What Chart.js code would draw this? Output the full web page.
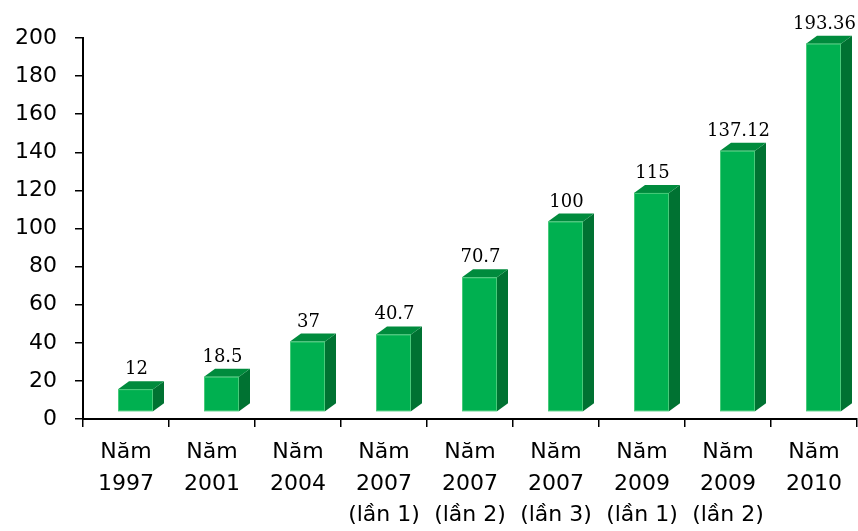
<!DOCTYPE html>
<html>
<head>
<meta charset="utf-8">
<script src="https://cdn.jsdelivr.net/npm/chart.js@4/dist/chart.umd.min.js"></script>
<style>
  html, body { margin: 0; padding: 0; background: #fff; }
  #wrap { width: 858px; height: 531px; }
</style>
</head>
<body>
<div id="wrap"><canvas id="c" width="858" height="531"></canvas></div>
<script>
const categories = [
  ['Năm', '1997'],
  ['Năm', '2001'],
  ['Năm', '2004'],
  ['Năm', '2007', '(lần 1)'],
  ['Năm', '2007', '(lần 2)'],
  ['Năm', '2007', '(lần 3)'],
  ['Năm', '2009', '(lần 1)'],
  ['Năm', '2009', '(lần 2)'],
  ['Năm', '2010']
];
const values = [12, 18.5, 37, 40.7, 70.7, 100, 115, 137.12, 193.36];
const valueLabels = ['12', '18.5', '37', '40.7', '70.7', '100', '115', '137.12', '193.36'];
const yTicks = [0, 20, 40, 60, 80, 100, 120, 140, 160, 180, 200];

// 3D box look: front face shifted right/up inside the category slot,
// with a dark side face and a mid-tone top face.
const FRONT = '#00b050';
const SIDE = '#007232';
const TOP = '#008b3d';
const SHIFT_X = 9.5, SHIFT_Y = 7;
const DEPTH_X = 11, DEPTH_Y = 8;

const boxBars = {
  id: 'boxBars',
  afterDatasetsDraw(chart) {
    const ctx = chart.ctx;
    const meta = chart.getDatasetMeta(0);
    ctx.save();
    meta.data.forEach((bar, i) => {
      const w = bar.width;
      const x0 = bar.x - w / 2 + SHIFT_X;
      const x1 = bar.x + w / 2 + SHIFT_X;
      const yt = bar.y - SHIFT_Y;
      const yb = bar.base - SHIFT_Y;
      // side face
      ctx.fillStyle = SIDE;
      ctx.beginPath();
      ctx.moveTo(x1, yt);
      ctx.lineTo(x1 + DEPTH_X, yt - DEPTH_Y);
      ctx.lineTo(x1 + DEPTH_X, yb - DEPTH_Y);
      ctx.lineTo(x1, yb);
      ctx.closePath();
      ctx.fill();
      // top face
      ctx.fillStyle = TOP;
      ctx.beginPath();
      ctx.moveTo(x0, yt);
      ctx.lineTo(x0 + DEPTH_X, yt - DEPTH_Y);
      ctx.lineTo(x1 + DEPTH_X, yt - DEPTH_Y);
      ctx.lineTo(x1, yt);
      ctx.closePath();
      ctx.fill();
      // front face
      ctx.fillStyle = FRONT;
      ctx.fillRect(x0, yt, x1 - x0, yb - yt);
      ctx.strokeStyle = 'rgba(120,220,150,0.6)';
      ctx.lineWidth = 1;
      ctx.strokeRect(x0 + 0.5, yt + 0.5, x1 - x0 - 1, yb - yt - 1);
      // value label
      ctx.fillStyle = '#000';
      ctx.font = '18px "DejaVu Serif"';
      ctx.textAlign = 'center';
      ctx.textBaseline = 'alphabetic';
      ctx.fillText(valueLabels[i], (x0 + x1) / 2 + 1, yt - DEPTH_Y - 7);
    });
    ctx.restore();
  }
};

new Chart(document.getElementById('c'), {
  type: 'bar',
  data: {
    labels: categories,
    datasets: [{
      data: values,
      backgroundColor: 'rgba(0,0,0,0)',
      borderWidth: 0,
      barThickness: 35
    }]
  },
  options: {
    responsive: false,
    animation: false,
    events: [],
    layout: { padding: { top: 38, right: 1, left: 0, bottom: 0 } },
    plugins: { legend: { display: false }, tooltip: { enabled: false } },
    scales: {
      x: {
        grid: { display: true, drawOnChartArea: false, drawTicks: true, tickLength: 8, color: '#000', lineWidth: 1.5, offset: true },
        border: { display: true, color: '#000', width: 2 },
        ticks: {
          color: '#000',
          font: { family: 'DejaVu Sans', size: 22, lineHeight: 1.45 },
          padding: 9,
          maxRotation: 0,
          autoSkip: false
        },
        afterFit(scale) { scale.height = 112; }
      },
      y: {
        min: 0,
        max: 200,
        afterBuildTicks(scale) { scale.ticks = yTicks.map(v => ({ value: v })); },
        grid: { display: true, drawOnChartArea: false, drawTicks: true, tickLength: 8, color: '#000', lineWidth: 1.5 },
        border: { display: true, color: '#000', width: 2 },
        ticks: {
          color: '#000',
          font: { family: 'DejaVu Sans', size: 22 },
          padding: 18
        },
        afterFit(scale) { scale.width = 83; }
      }
    }
  },
  plugins: [boxBars]
});
</script>
</body>
</html>
